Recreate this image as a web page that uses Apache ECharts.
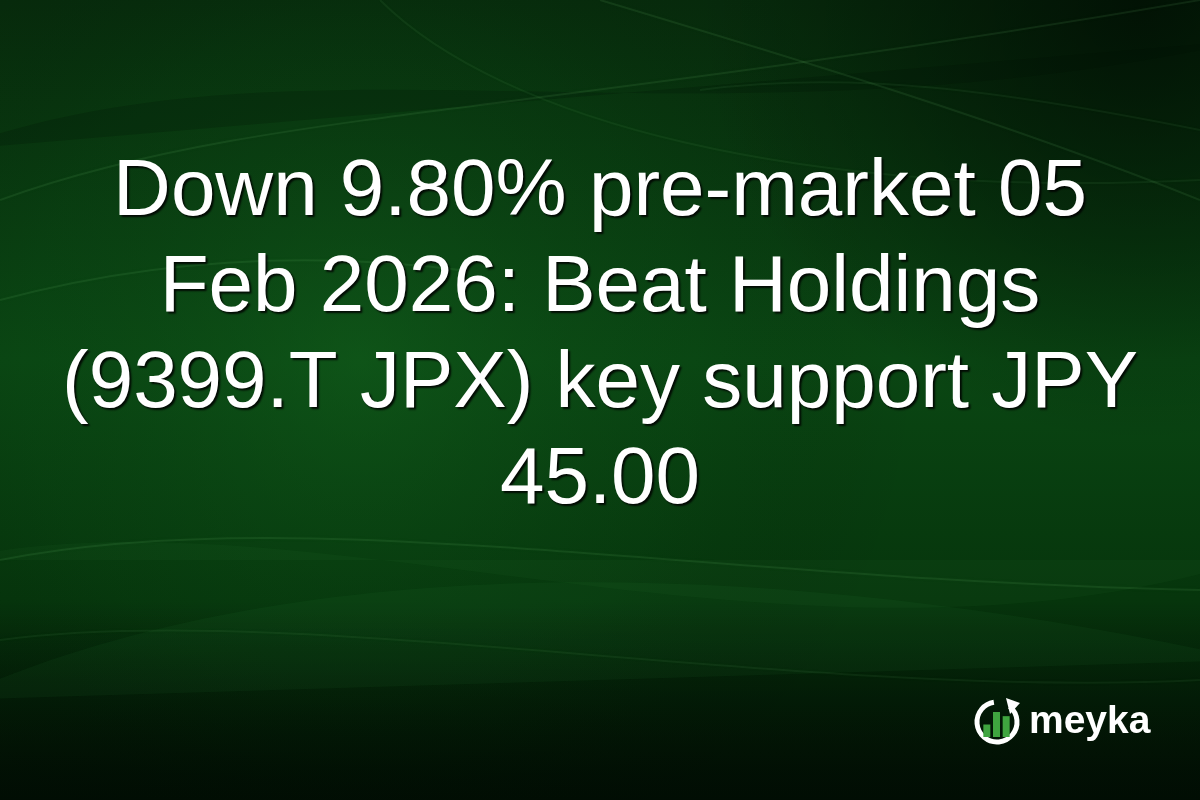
<!DOCTYPE html>
<html>
<head>
<meta charset="utf-8">
<script src="https://cdn.jsdelivr.net/npm/echarts@6/dist/echarts.min.js"></script>
<style>
html,body{margin:0;padding:0;background:#03200a;}
#main{width:1200px;height:800px;}
</style>
</head>
<body>
<div id="main"></div>
<script>
// Headline text lines
var titleLines = ['Down 9.80% pre-market 05', 'Feb 2026: Beat Holdings', '(9399.T JPX) key support JPY', '45.00'];
// Logo bar chart (icon) categories and values
var logoCategories = ['a', 'b', 'c'];
var logoValues = [12, 24, 20];
var brandName = 'meyka';

var chart = echarts.init(document.getElementById('main'), null, {renderer: 'canvas'});

var graphics = [];
function fullRect(fill, z) {
  graphics.push({type: 'rect', z: z, silent: true, shape: {x: 0, y: 0, width: 1200, height: 800}, style: {fill: fill}});
}
// Background base
fullRect({type: 'linear', x: 0, y: 0, x2: 0, y2: 1, colorStops: [
  {offset: 0, color: '#072b0c'},
  {offset: 0.45, color: '#0a4713'},
  {offset: 0.75, color: '#06350c'},
  {offset: 1, color: '#021505'}
]}, -10);
// Left glow
fullRect({type: 'radial', x: 0.3, y: 0.45, r: 0.7, colorStops: [
  {offset: 0, color: 'rgba(20,100,30,0.45)'},
  {offset: 0.6, color: 'rgba(10,70,20,0.15)'},
  {offset: 1, color: 'rgba(0,0,0,0)'}
]}, -9);
// Dark top-right
fullRect({type: 'radial', x: 0.95, y: 0.0, r: 0.55, colorStops: [
  {offset: 0, color: 'rgba(0,10,2,0.75)'},
  {offset: 1, color: 'rgba(0,10,2,0)'}
]}, -8);
// Dark bottom
fullRect({type: 'linear', x: 0, y: 0, x2: 0, y2: 1, colorStops: [
  {offset: 0, color: 'rgba(0,0,0,0)'},
  {offset: 0.75, color: 'rgba(0,0,0,0)'},
  {offset: 1, color: 'rgba(0,8,2,0.6)'}
]}, -8);

// Soft wave bands (filled bezier segments: fill closes curve to its chord)
var bands = [
  {x1: -50, y1: 150, cpx1: 300, cpy1: 20, cpx2: 700, cpy2: 160, x2: 1250, y2: 40, fill: 'rgba(0,15,3,0.2)'},
  {x1: -50, y1: 700, cpx1: 300, cpy1: 540, cpx2: 800, cpy2: 560, x2: 1250, y2: 660, fill: 'rgba(60,160,70,0.07)'},
  {x1: -50, y1: 560, cpx1: 300, cpy1: 480, cpx2: 800, cpy2: 700, x2: 1250, y2: 560, fill: 'rgba(60,160,70,0.06)'}
];
bands.forEach(function (b) {
  graphics.push({type: 'bezierCurve', z: -7, silent: true,
    shape: {x1: b.x1, y1: b.y1, x2: b.x2, y2: b.y2, cpx1: b.cpx1, cpy1: b.cpy1, cpx2: b.cpx2, cpy2: b.cpy2},
    style: {fill: b.fill, stroke: null}});
});
// Light streaks
var streaks = [
  [0, 200, 250, 110, 500, 120, 1200, 0],
  [380, 0, 500, 120, 800, 200, 1200, 180],
  [0, 560, 300, 500, 700, 580, 1200, 590],
  [0, 640, 300, 600, 800, 700, 1200, 680],
  [0, 300, 150, 260, 300, 250, 460, 270],
  [700, 90, 850, 70, 1000, 90, 1200, 130],
  [600, 0, 800, 60, 1000, 120, 1200, 200]
];
streaks.forEach(function (s, i) {
  graphics.push({type: 'bezierCurve', z: -6, silent: true,
    shape: {x1: s[0], y1: s[1], cpx1: s[2], cpy1: s[3], cpx2: s[4], cpy2: s[5], x2: s[6], y2: s[7]},
    style: {fill: null, stroke: 'rgba(120,200,120,' + (i % 2 ? 0.08 : 0.11) + ')', lineWidth: 2,
      shadowColor: 'rgba(120,200,120,0.3)', shadowBlur: 4}});
});

// Title lines
var baseY = 193, lineStep = 96;
titleLines.forEach(function (t, i) {
  graphics.push({
    type: 'text', z: 10, silent: true,
    x: 600, y: baseY + i * lineStep,
    style: {
      text: t, fill: '#ffffff',
      font: '80px "Liberation Sans", Arial, sans-serif',
      align: 'center', verticalAlign: 'middle',
      textShadowColor: 'rgba(0,0,0,0.85)', textShadowOffsetX: 2, textShadowOffsetY: 2, textShadowBlur: 2
    }
  });
});

// Logo ring (open arc) with arrowhead
var cx = 997, cy = 722, r = 20;
graphics.push({
  type: 'arc', z: 10, silent: true,
  shape: {cx: cx, cy: cy, r: r, startAngle: -Math.PI * 0.28, endAngle: -Math.PI * 0.55, clockwise: true},
  style: {fill: null, stroke: '#ffffff', lineWidth: 5}
});
graphics.push({
  type: 'polygon', z: 10, silent: true,
  shape: {points: [[1006, 698], [1020, 703], [1010, 714]]},
  style: {fill: '#ffffff'}
});
// Brand name
graphics.push({
  type: 'text', z: 10, silent: true,
  x: 1029, y: 722,
  style: {
    text: brandName, fill: '#ffffff',
    font: 'bold 39px "Liberation Sans", Arial, sans-serif',
    align: 'left', verticalAlign: 'middle'
  }
});

var option = {
  backgroundColor: 'transparent',
  animation: false,
  graphic: graphics,
  grid: {left: 982, top: 712, width: 29, height: 25, containLabel: false},
  xAxis: {type: 'category', data: logoCategories, show: false},
  yAxis: {type: 'value', min: 0, max: 24, show: false},
  series: [{
    type: 'bar', data: logoValues, barWidth: 7, barGap: 0,
    itemStyle: {color: '#3fa53f'}, silent: true, z: 11
  }]
};
chart.setOption(option);
</script>
</body>
</html>
